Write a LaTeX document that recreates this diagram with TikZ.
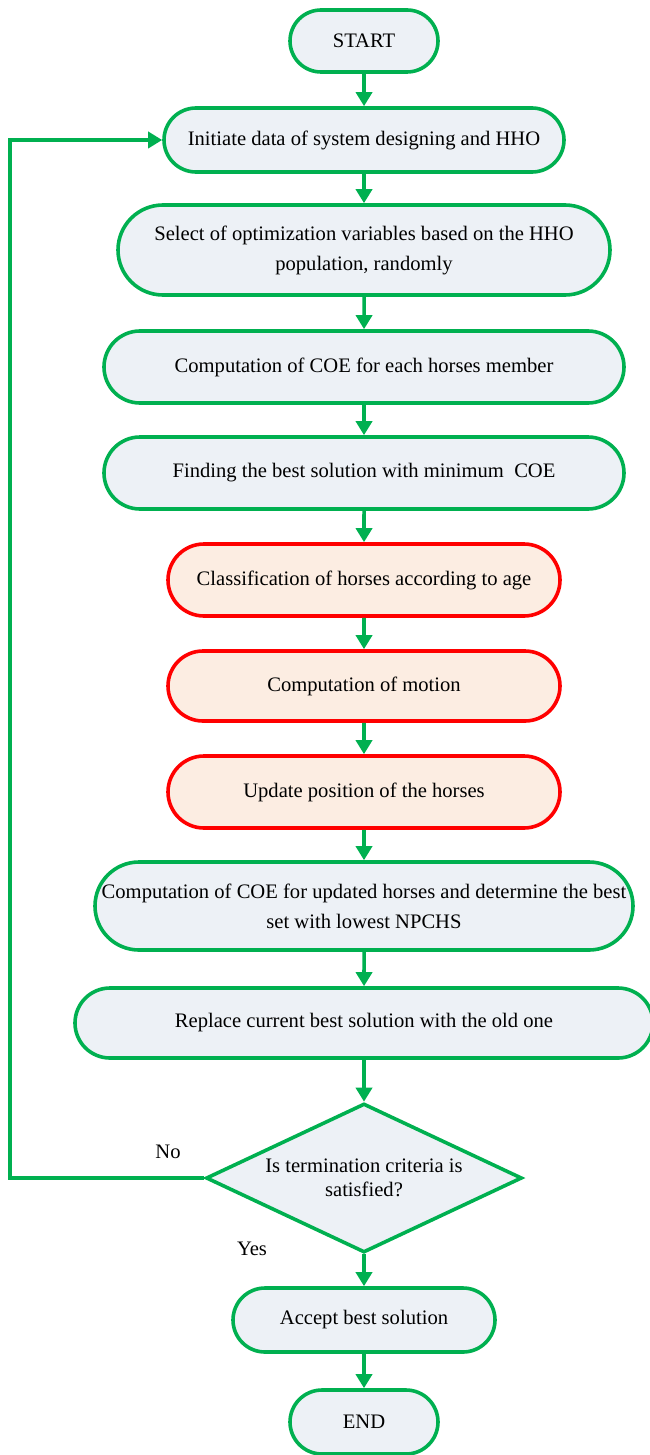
\documentclass[tikz,border=0pt]{standalone}
\usepackage{fontspec}
\setmainfont{Liberation Serif}
\usetikzlibrary{shapes.misc,shapes.geometric,arrows.meta}
\definecolor{flowgreen}{RGB}{0,176,80}
\definecolor{boxfill}{RGB}{237,241,246}
\definecolor{peach}{RGB}{252,237,226}
\begin{document}
\begin{tikzpicture}[x=0.5pt,y=-0.5pt,
    box/.style={rounded rectangle,draw=flowgreen,fill=boxfill,line width=1.8pt,
        align=center,inner sep=0pt,font=\fontsize{10.3}{15}\selectfont},
    hot/.style={box,draw=red,fill=peach},
    arr/.style={draw=flowgreen,line width=1.8pt,-{Triangle[length=7pt,width=8pt]}}]
    \useasboundingbox (0,0) rectangle (649,1455);
    \node[box,minimum width=74pt,minimum height=31pt] (start) at (364,41) {START};
    \node[box,minimum width=200pt,minimum height=32pt] (init) at (364,140) {Initiate data of system designing and HHO};
    \node[box,minimum width=246pt,minimum height=45pt] (sel) at (364,250) {Select of optimization variables based on the HHO\\population, randomly};
    \node[box,minimum width=260pt,minimum height=36pt] (coe) at (364,367) {Computation of COE for each horses member};
    \node[box,minimum width=260pt,minimum height=36pt] (best) at (364,473) {Finding the best solution with minimum\ \ COE};
    \node[hot,minimum width=196pt,minimum height=36pt] (age) at (364,580) {Classification of horses according to age};
    \node[hot,minimum width=196pt,minimum height=35pt] (mot) at (364,686) {Computation of motion};
    \node[hot,minimum width=196pt,minimum height=36pt] (upd) at (364,792) {Update position of the horses};
    \node[box,minimum width=269pt,minimum height=44pt] (coe2) at (364,906) {Computation of COE for updated horses and determine the best\\set with lowest NPCHS};
    \node[box,minimum width=289pt,minimum height=35pt] (rep) at (364,1023) {Replace current best solution with the old one};
    \node[diamond,aspect=2.1,draw=flowgreen,fill=boxfill,line width=1.8pt,inner sep=0pt,
        minimum width=158pt,minimum height=74.5pt,align=center,
        font=\fontsize{10.3}{12}\selectfont] (dec) at (364,1178) {Is termination criteria is\\satisfied?};
    \node[box,minimum width=131pt,minimum height=32pt] (acc) at (364,1320) {Accept best solution};
    \node[box,minimum width=74pt,minimum height=32pt] (end) at (364,1422) {END};
    \foreach \a/\b in {start/init,init/sel,sel/coe,coe/best,best/age,age/mot,mot/upd,upd/coe2,coe2/rep,rep/dec,dec/acc,acc/end}
        \draw[arr] (\a) -- (\b);
    % loop back
    \coordinate (back) at (10,1178);
    \draw[arr] (dec.west) -- (back) |- (init.west);
    \node[font=\fontsize{10.3}{12}\selectfont] (no) at (168,1152) {No};
    \node[font=\fontsize{10.3}{12}\selectfont] (yes) at (252,1249) {Yes};
\end{tikzpicture}
\end{document}
